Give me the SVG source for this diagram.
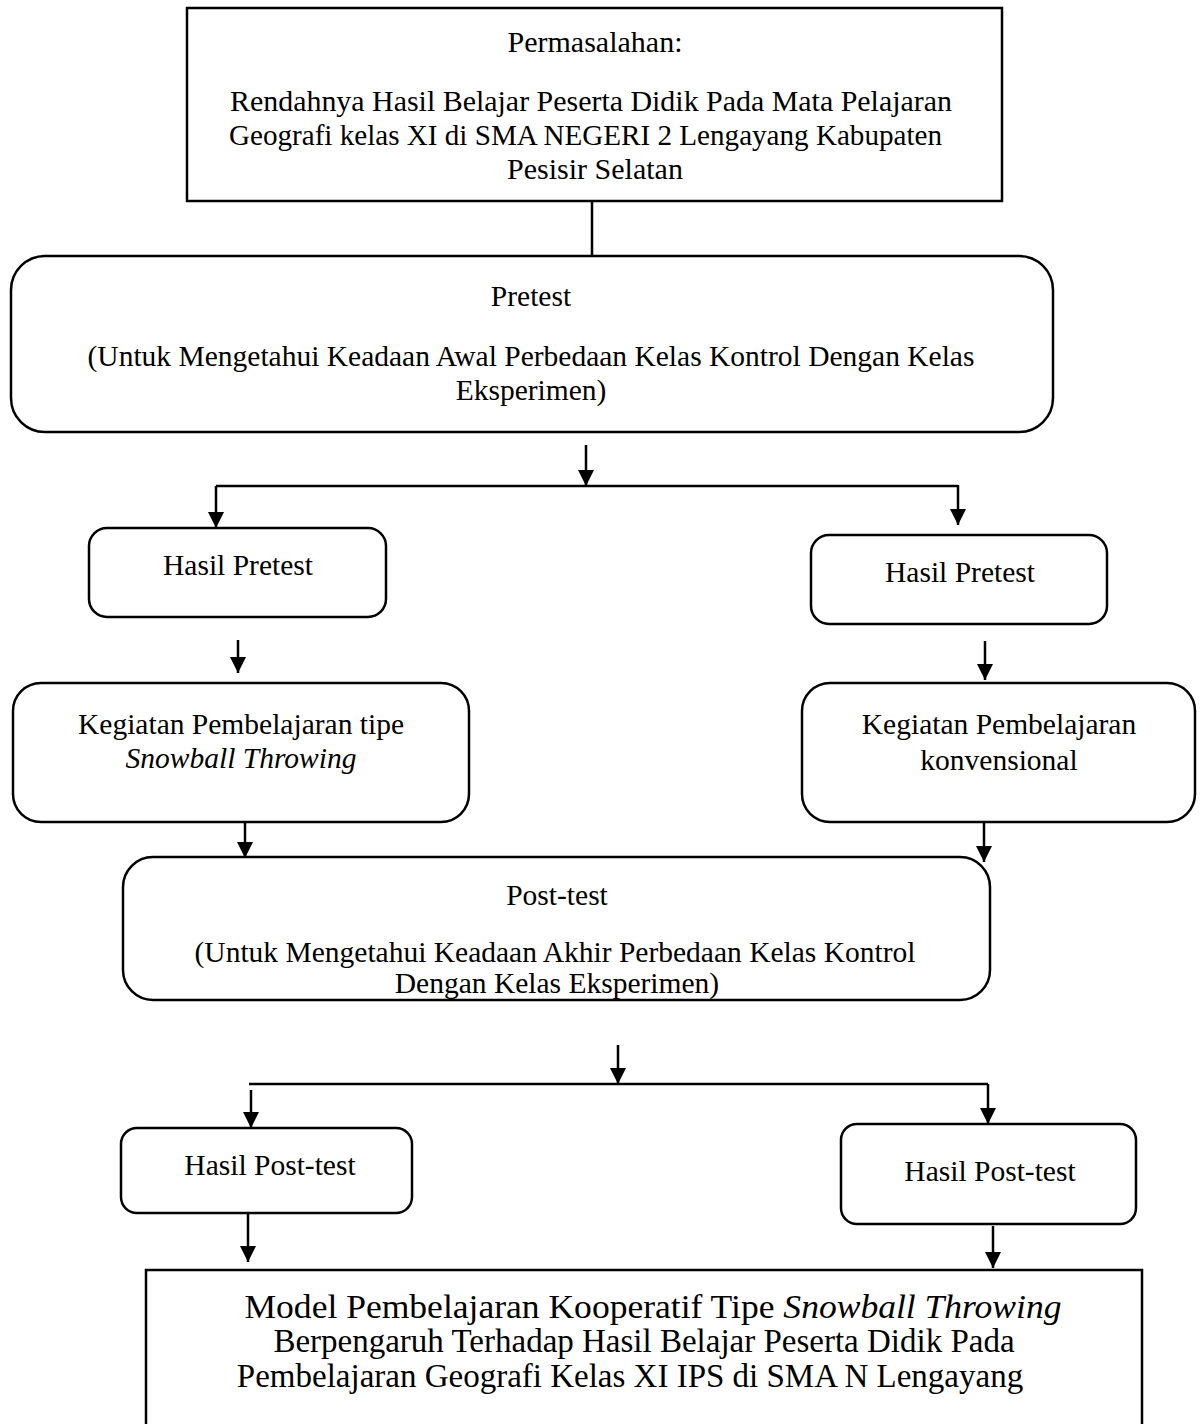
<svg xmlns="http://www.w3.org/2000/svg" width="1203" height="1424" viewBox="0 0 1203 1424">
<defs>
<style>
.box{fill:#fff;stroke:#000;stroke-width:2.5}
.t{font-family:"Liberation Serif","Times New Roman",serif;font-size:29.5px;fill:#000;text-anchor:middle}
.ta{font-family:"Liberation Serif","Times New Roman",serif;font-size:30px;fill:#000;text-anchor:middle}
.tb{font-family:"Liberation Serif","Times New Roman",serif;font-size:33px;fill:#000;text-anchor:middle}
.c{fill:none;stroke:#000;stroke-width:2.5}
</style>
<marker id="ah" viewBox="0 0 10 10" refX="10" refY="5" markerWidth="16" markerHeight="16" markerUnits="userSpaceOnUse" orient="auto">
<path d="M0,0 L10,5 L0,10 Z" fill="#000"/>
</marker>
</defs>
<rect width="1203" height="1424" fill="#fff"/>

<g id="connectors">
<line class="c" x1="592" y1="201" x2="592" y2="256"/>
<line class="c" x1="586" y1="445" x2="586" y2="486" marker-end="url(#ah)"/>
<polyline class="c" points="958,486 216,486"/>
<line class="c" x1="216" y1="486" x2="216" y2="528" marker-end="url(#ah)"/>
<line class="c" x1="958" y1="485" x2="958" y2="525" marker-end="url(#ah)"/>
<line class="c" x1="238" y1="640" x2="238" y2="673" marker-end="url(#ah)"/>
<line class="c" x1="985" y1="641" x2="985" y2="680" marker-end="url(#ah)"/>
<line class="c" x1="245" y1="822" x2="245" y2="858" marker-end="url(#ah)"/>
<line class="c" x1="984" y1="821" x2="984" y2="862" marker-end="url(#ah)"/>
<line class="c" x1="618" y1="1045" x2="618" y2="1084" marker-end="url(#ah)"/>
<line class="c" x1="249" y1="1084" x2="988" y2="1084"/>
<line class="c" x1="251" y1="1090" x2="251" y2="1128" marker-end="url(#ah)"/>
<line class="c" x1="988" y1="1084" x2="988" y2="1124" marker-end="url(#ah)"/>
<line class="c" x1="248" y1="1214" x2="248" y2="1262" marker-end="url(#ah)"/>
<line class="c" x1="993" y1="1226" x2="993" y2="1268" marker-end="url(#ah)"/>
</g>

<g id="masalah">
<rect class="box" x="187" y="8" width="815" height="193"/>
<text class="ta" x="595" y="52">Permasalahan:</text>
<text class="ta" x="591" y="111" textLength="722" lengthAdjust="spacingAndGlyphs">Rendahnya Hasil Belajar Peserta Didik Pada Mata Pelajaran</text>
<text class="ta" x="585.5" y="145" textLength="713" lengthAdjust="spacingAndGlyphs">Geografi kelas XI di SMA NEGERI 2 Lengayang Kabupaten</text>
<text class="ta" x="595" y="179">Pesisir Selatan</text>
</g>

<g id="pretest">
<rect class="box" x="11" y="256" width="1042" height="176" rx="34"/>
<text class="t" x="531" y="306">Pretest</text>
<text class="t" x="531" y="366">(Untuk Mengetahui Keadaan Awal Perbedaan Kelas Kontrol Dengan Kelas</text>
<text class="t" x="531" y="400">Eksperimen)</text>
</g>

<g id="hasil-pretest-1">
<rect class="box" x="89" y="528" width="297" height="89" rx="18"/>
<text class="t" x="238" y="575">Hasil Pretest</text>
</g>

<g id="hasil-pretest-2">
<rect class="box" x="811" y="535" width="296" height="89" rx="18"/>
<text class="t" x="960" y="582">Hasil Pretest</text>
</g>

<g id="kegiatan-1">
<rect class="box" x="13" y="683" width="456" height="139" rx="28"/>
<text class="t" x="241" y="734">Kegiatan Pembelajaran tipe</text>
<text class="t" x="241" y="768" font-style="italic">Snowball Throwing</text>
</g>

<g id="kegiatan-2">
<rect class="box" x="802" y="683" width="393" height="139" rx="28"/>
<text class="t" x="999" y="734">Kegiatan Pembelajaran</text>
<text class="t" x="999" y="770">konvensional</text>
</g>

<g id="posttest">
<rect class="box" x="123" y="857" width="867" height="143" rx="30"/>
<text class="t" x="557" y="905">Post-test</text>
<text class="t" x="555" y="962">(Untuk Mengetahui Keadaan Akhir Perbedaan Kelas Kontrol</text>
<text class="t" x="557" y="993">Dengan Kelas Eksperimen)</text>
</g>

<g id="hasil-posttest-1">
<rect class="box" x="121" y="1128" width="291" height="85" rx="16"/>
<text class="t" x="270" y="1175">Hasil Post-test</text>
</g>

<g id="hasil-posttest-2">
<rect class="box" x="841" y="1124" width="295" height="100" rx="16"/>
<text class="t" x="990" y="1181">Hasil Post-test</text>
</g>

<g id="kesimpulan">
<rect class="box" x="146" y="1270" width="996" height="170"/>
<text class="tb" x="653" y="1318" textLength="817" lengthAdjust="spacingAndGlyphs">Model Pembelajaran Kooperatif Tipe <tspan font-style="italic">Snowball Throwing</tspan></text>
<text class="tb" x="644" y="1352">Berpengaruh Terhadap Hasil Belajar Peserta Didik Pada</text>
<text class="tb" x="630" y="1387">Pembelajaran Geografi Kelas XI IPS di SMA N Lengayang</text>
</g>
</svg>
